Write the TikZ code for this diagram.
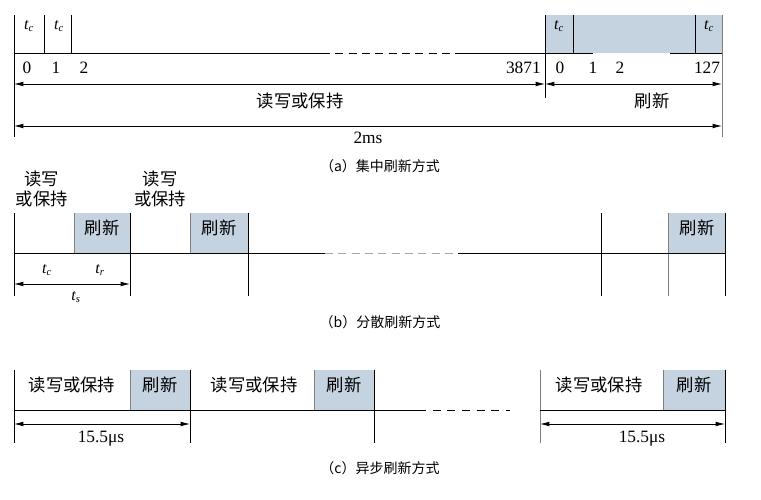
\documentclass[tikz,border=0pt]{standalone}
\usepackage{fontspec}
\setmainfont{Liberation Serif}
\newfontfamily\cjk{Noto Sans CJK SC}
\usetikzlibrary{arrows.meta}
\definecolor{refblue}{HTML}{C5D3E1}
\begin{document}
\begin{tikzpicture}[x=0.75pt,y=-0.75pt,
  ln/.style={line width=0.6pt},
  thinln/.style={line width=0.5pt, gray},
  dsh/.style={line width=0.6pt, gray!70, dash pattern=on 6pt off 4pt},
  arr/.style={line width=0.6pt, {Latex[length=7pt,width=3.5pt]}-{Latex[length=7pt,width=3.5pt]}},
  shade/.style={fill=refblue, draw=none},
  lbl/.style={font=\cjk\fontsize{13}{15}\selectfont, inner sep=0pt},
  num/.style={font=\fontsize{13}{15}\selectfont, inner sep=0pt},
  tlbl/.style={font=\fontsize{12}{14}\selectfont\itshape, inner sep=0pt},
  captxt/.style={font=\cjk\fontsize{10.5}{13}\selectfont, inner sep=0pt}]
\useasboundingbox (0,0) rectangle (761,500);
% ---------- (a)
\fill[shade] (545,15) rectangle (722,53);
\draw[ln] (14,15) -- (14,137);
\draw[ln] (44,15) -- (44,53);
\draw[ln] (71,15) -- (71,53);
\draw[ln] (545,15) -- (545,98);
\draw[ln] (573,15) -- (573,53);
\draw[ln] (695,15) -- (695,53);
\draw[thinln] (722,15) -- (722,137);
\draw[ln] (14,53) -- (322,53);
\draw[ln, dash pattern=on 6pt off 4pt] (322,53) -- (458,53);
\draw[ln] (458,53) -- (593,53);
\draw[dsh, white] (593,53) -- (670,53);
\draw[ln] (670,53) -- (722,53);
\node[tlbl] (ta1) at (29,26) {t\textsubscript{c}};
\node[tlbl] (ta2) at (59,26) {t\textsubscript{c}};
\node[tlbl] (ta3) at (559,26) {t\textsubscript{c}};
\node[tlbl] (ta4) at (709,26) {t\textsubscript{c}};
\node[num] (n0) at (27,68) {0};
\node[num] (n1) at (56,68) {1};
\node[num] (n2) at (84,68) {2};
\node[num, anchor=east] (n3871) at (541,68) {3871};
\node[num] (m0) at (560,68) {0};
\node[num] (m1) at (593,68) {1};
\node[num] (m2) at (620,68) {2};
\node[num] (m127) at (707,68) {127};
\coordinate (a0) at (14,84); \coordinate (a1) at (545,84); \coordinate (a2) at (722,84);
\draw[arr] (a0) -- (a1);
\draw[arr] (a1) -- (a2);
\node[lbl] (rw) at (300,101) {读写或保持};
\node[lbl] (rf) at (652,101) {刷新};
\coordinate (b0) at (14,126); \coordinate (b1) at (722,126);
\draw[arr] (b0) -- (b1);
\node[num] (ms) at (368,138) {2ms};
\node[captxt] (capa) at (380,166) {（a）集中刷新方式};
% ---------- (b)
\fill[shade] (74,213) rectangle (130,253);
\fill[shade] (190,213) rectangle (248,253);
\fill[shade] (668,213) rectangle (725,253);
\draw[ln] (14,213) -- (14,296);
\draw[thinln] (74,213) -- (74,253);
\draw[ln] (130,213) -- (130,296);
\draw[thinln] (190,213) -- (190,253);
\draw[ln] (248,213) -- (248,296);
\draw[ln] (601,213) -- (601,296);
\draw[thinln] (668,213) -- (668,296);
\draw[ln] (725,213) -- (725,296);
\draw[ln] (14,253) -- (325,253);
\draw[dsh] (325,253) -- (458,253);
\draw[ln] (458,253) -- (725,253);
\node[lbl, align=center] (rwb1) at (42,189) {读写\\或保持};
\node[lbl, align=center] (rwb2) at (160,189) {读写\\或保持};
\node[lbl] (rfb1) at (102,228) {刷新};
\node[lbl] (rfb2) at (219,228) {刷新};
\node[lbl] (rfb3) at (697,228) {刷新};
\node[tlbl] (tc) at (47,270) {t\textsubscript{c}};
\node[tlbl] (tr) at (100,270) {t\textsubscript{r}};
\coordinate (c0) at (14,284); \coordinate (c1) at (130,284);
\draw[arr] (c0) -- (c1);
\node[tlbl] (ts) at (76,297) {t\textsubscript{s}};
\node[captxt] (capb) at (380,322) {（b）分散刷新方式};
% ---------- (c)
\fill[shade] (130,370) rectangle (190,410);
\fill[shade] (314,370) rectangle (374,410);
\fill[shade] (663,370) rectangle (725,410);
\draw[ln] (14,370) -- (14,443);
\draw[thinln] (130,370) -- (130,410);
\draw[ln] (190,370) -- (190,443);
\draw[thinln] (314,370) -- (314,410);
\draw[ln] (374,370) -- (374,443);
\draw[thinln] (540,370) -- (540,443);
\draw[thinln] (663,370) -- (663,410);
\draw[ln] (725,370) -- (725,443);
\draw[ln] (14,410) -- (418,410);
\draw[ln, dash pattern=on 6pt off 5pt] (418,410) -- (510,410);
\draw[ln] (540,410) -- (725,410);
\node[lbl] (rwc1) at (72,385) {读写或保持};
\node[lbl] (rfc1) at (160,385) {刷新};
\node[lbl] (rwc2) at (254,385) {读写或保持};
\node[lbl] (rfc2) at (344,385) {刷新};
\node[lbl] (rwc3) at (599,385) {读写或保持};
\node[lbl] (rfc3) at (694,385) {刷新};
\coordinate (d0) at (14,424); \coordinate (d1) at (190,424);
\coordinate (e0) at (540,424); \coordinate (e1) at (725,424);
\draw[arr] (d0) -- (d1);
\draw[arr] (e0) -- (e1);
\node[num] (us1) at (101,439) {15.5μs};
\node[num] (us2) at (642,439) {15.5μs};
\node[captxt] (capc) at (380,468) {（c）异步刷新方式};
\end{tikzpicture}
\end{document}
